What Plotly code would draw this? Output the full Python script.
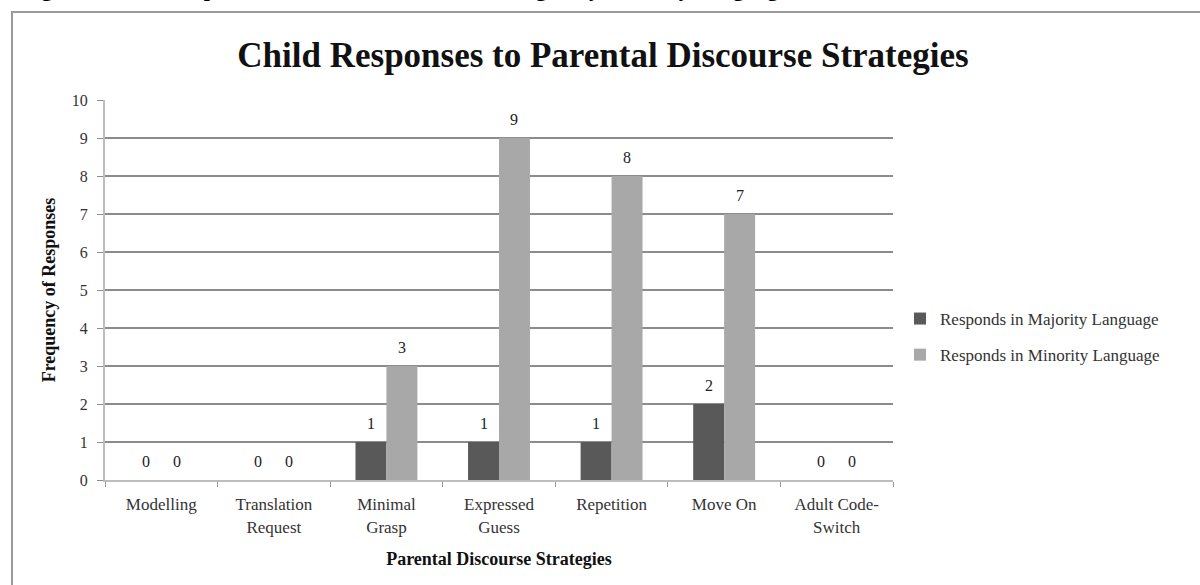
import plotly.graph_objects as go

categories = ["Modelling", "Translation<br>Request", "Minimal<br>Grasp", "Expressed<br>Guess",
              "Repetition", "Move On", "Adult Code-<br>Switch"]
majority = [0, 0, 1, 1, 1, 2, 0]
minority = [0, 0, 3, 9, 8, 7, 0]
series_names = ["Responds in Majority Language", "Responds in Minority Language"]
y_ticks = list(range(0, 11))

W, H = 1200, 585
ML, MR, MT, MB = 105, 307, 100, 105
PW, PH = W - ML - MR, H - MT - MB
BARGAP = 0.45
BAR_PX = PW / len(categories) * (1 - BARGAP) / 2


def px2x(px):
    return (px - ML) / PW


def px2y(py):
    return (H - MB - py) / PH


FONT = "Liberation Serif"
fig = go.Figure()
fig.add_trace(go.Bar(x=categories, y=majority, name=series_names[0], legendgroup="a",
                     marker=dict(color="#595959", line=dict(width=0))))
fig.add_trace(go.Bar(x=categories, y=minority, name=series_names[1], legendgroup="b",
                     marker=dict(color="#a8a8a8", line=dict(width=0))))

# value labels above bars
for vals, sign in ((majority, -1), (minority, 1)):
    for c, v in zip(categories, vals):
        fig.add_annotation(x=c, y=v, xref="x", yref="y", text=str(v), showarrow=False,
                           xshift=sign * BAR_PX / 2, yshift=19, yanchor="middle",
                           font=dict(family=FONT, size=16, color="#222"))

fig.update_layout(
    width=W, height=H,
    margin=dict(l=ML, r=MR, t=MT, b=MB),
    paper_bgcolor="white", plot_bgcolor="white",
    barmode="group", bargap=BARGAP, bargroupgap=0,
    font=dict(family=FONT, color="#333"),
    title=dict(text="<b>Child Responses to Parental Discourse Strategies</b>",
               x=px2x(603), xref="paper", xanchor="center",
               y=1 - 55 / H, yanchor="middle",
               font=dict(family=FONT, size=35, color="#111")),
    showlegend=True,
    legend=dict(x=px2x(900), y=px2y(337), xanchor="left", yanchor="middle",
                font=dict(family=FONT, size=17, color="#333"),
                itemwidth=30, bgcolor="rgba(0,0,0,0)", tracegroupgap=11,
                traceorder="grouped"),
    xaxis=dict(showline=True, linecolor="#bdbdbd", linewidth=2,
               ticks="outside", tickson="boundaries", ticklen=5, tickcolor="#999",
               ticklabelstandoff=8,
               tickfont=dict(family=FONT, size=17, color="#333"),
               title=dict(text="<b>Parental Discourse Strategies</b>", standoff=17,
                          font=dict(family=FONT, size=18, color="#111")),
               range=[-0.5, 6.5]),
    yaxis=dict(range=[0, 10], tickvals=y_ticks, showline=True, linecolor="#bdbdbd",
               linewidth=2, showgrid=True, gridcolor="#8c8c8c", gridwidth=1.5,
               ticks="outside", ticklen=6, tickcolor="#8c8c8c", ticklabelstandoff=6,
               tickfont=dict(family=FONT, size=16, color="#333"),
               title=dict(text="<b>Frequency of Responses</b>", standoff=11,
                          font=dict(family=FONT, size=18, color="#111")),
               zeroline=False),
)

# chart frame
fig.add_shape(type="rect", xref="paper", yref="paper",
              x0=px2x(12), x1=px2x(1215), y0=px2y(600), y1=px2y(12),
              line=dict(color="#9a9a9a", width=2), fillcolor="rgba(0,0,0,0)", layer="below")

# caption of the page, cut off at the very top
fig.add_annotation(text="<b>Figure 4. Child Responses to Parental Discourse Strategies by Minority Language</b>",
                   xref="paper", yref="paper", x=px2x(20), y=px2y(3),
                   xanchor="left", yanchor="bottom", showarrow=False,
                   font=dict(family=FONT, size=22, color="#000"))

fig.write_html("out.html")
